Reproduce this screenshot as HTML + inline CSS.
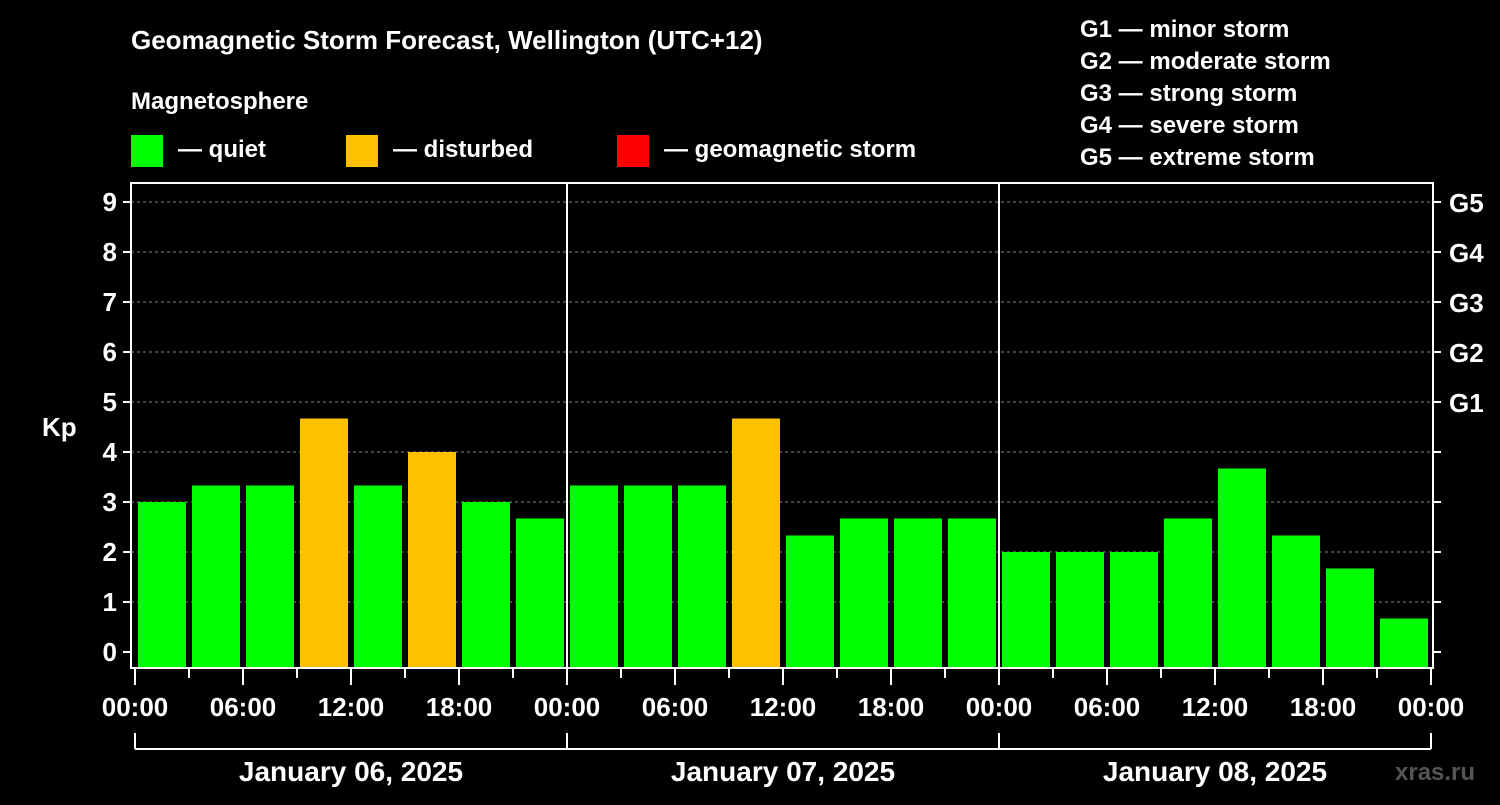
<!DOCTYPE html>
<html><head><meta charset="utf-8"><style>
body{margin:0;background:#000;width:1500px;height:800px;overflow:hidden}
svg text{font-family:"Liberation Sans",sans-serif;font-weight:bold;fill:#fff}
</style></head><body>
<svg id="c" width="1500" height="800">
<text x="131" y="49" font-size="26">Geomagnetic Storm Forecast, Wellington (UTC+12)</text>
<text x="131" y="109" font-size="24">Magnetosphere</text>
<g><rect x="131" y="135" width="32" height="32" fill="#00ff00"/><text x="178" y="157" font-size="24">— quiet</text></g>
<g><rect x="346" y="135" width="32" height="32" fill="#ffc000"/><text x="393" y="157" font-size="24">— disturbed</text></g>
<g><rect x="617" y="135" width="32" height="32" fill="#ff0000"/><text x="664" y="157" font-size="24">— geomagnetic storm</text></g>
<g font-size="24">
<text x="1080" y="37">G1 — minor storm</text><text x="1080" y="69">G2 — moderate storm</text><text x="1080" y="101">G3 — strong storm</text><text x="1080" y="133">G4 — severe storm</text><text x="1080" y="165">G5 — extreme storm</text></g>
<text x="42" y="436" font-size="26">Kp</text>
<text x="1395" y="780" font-size="24" fill="#555" style="fill:#555">xras.ru</text>
<g id="plot"></g>
</svg>
<script>
const kpValues=[3,3.33,3.33,4.67,3.33,4,3,2.67, 3.33,3.33,3.33,4.67,2.33,2.67,2.67,2.67, 2,2,2,2.67,3.67,2.33,1.67,0.67];
const dayLabels=["January 06, 2025","January 07, 2025","January 08, 2025"];
const hourLabels=["00:00","06:00","12:00","18:00"];
const yTicks=[0,1,2,3,4,5,6,7,8,9];
const gLabels=["G1","G2","G3","G4","G5"];
const NS="http://www.w3.org/2000/svg",p=document.getElementById('plot');
const L=131,R=1433,T=183,B=668,X0=135,W3=54;
const y=v=>652-v*50, x=i=>X0+i*W3;
function mk(t,a,par){const e=document.createElementNS(NS,t);for(const k in a)e.setAttribute(k,a[k]);(par||p).appendChild(e);return e;}
yTicks.forEach(v=>{if(v>0){const l=mk('line',{x1:L,x2:R,y1:y(v),y2:y(v),stroke:'#888','stroke-dasharray':'3,3','stroke-width':1});

}
const t=mk('text',{x:117,y:y(v)+9,'font-size':26,'text-anchor':'end'});t.textContent=v;


mk('line',{x1:L-8,x2:L,y1:y(v),y2:y(v),stroke:'#fff','stroke-width':2});
mk('line',{x1:R,x2:R+8,y1:y(v),y2:y(v),stroke:'#fff','stroke-width':2});});
gLabels.forEach((g,i)=>{const t=mk('text',{x:1449,y:y(5+i)+10,'font-size':26});t.textContent=g;

});
kpValues.forEach((v,i)=>{const c=v>=5?'#ff0000':v>=4?'#ffc000':'#00ff00';
const r=mk('rect',{x:x(i)+3,y:y(v),width:48,height:B-y(v),fill:c});

});
mk('rect',{x:L,y:T,width:R-L,height:B-T,fill:'none',stroke:'#fff','stroke-width':2});
for(let d=1;d<dayLabels.length;d++)mk('line',{x1:x(d*8),x2:x(d*8),y1:T,y2:B,stroke:'#fff','stroke-width':2});
for(let i=0;i<=kpValues.length;i++){const maj=i%2==0;mk('line',{x1:x(i),x2:x(i),y1:B,y2:maj?685:678,stroke:'#fff','stroke-width':2});
if(maj){const t=mk('text',{x:x(i),y:716,'font-size':26,'text-anchor':'middle'});t.textContent=hourLabels[(i/2)%4];

}}
mk('line',{x1:x(0),x2:x(kpValues.length),y1:749,y2:749,stroke:'#fff','stroke-width':2});
dayLabels.forEach((d,k)=>{mk('line',{x1:x(k*8),x2:x(k*8),y1:733,y2:749,stroke:'#fff','stroke-width':2});
const t=mk('text',{x:(x(k*8)+x(k*8+8))/2,y:781,'font-size':28,'text-anchor':'middle'});t.textContent=d;

});
mk('line',{x1:x(24),x2:x(24),y1:733,y2:749,stroke:'#fff','stroke-width':2});
</script>
</body></html>
